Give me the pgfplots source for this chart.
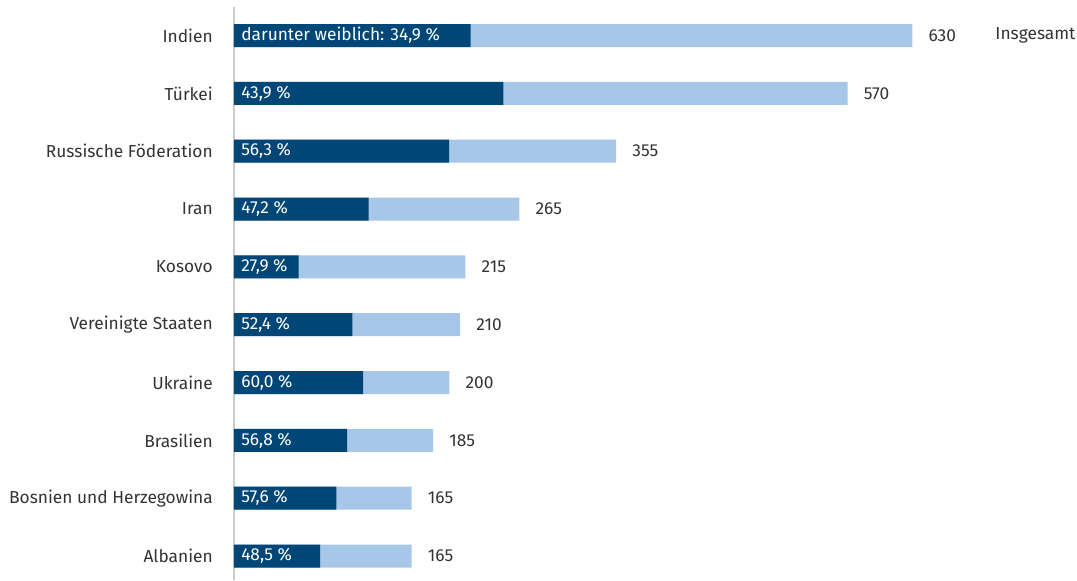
\documentclass[border=0pt]{standalone}
\usepackage{pgfplots}
\usepackage{pgfplotstable}
\pgfplotsset{compat=1.18}
\usepackage{fontspec}
\setmainfont{Fira Sans}

\definecolor{dunkel}{HTML}{004677}
\definecolor{hell}{HTML}{A6C7E8}
\definecolor{schrift}{HTML}{333333}
\definecolor{achse}{HTML}{CCCCCC}

% total, female share (absolute = total * share)
\pgfplotstableread[col sep=semicolon]{
idx;land;gesamt;weiblich;lab
0;Indien;630;219.87;darunter weiblich: 34,9 \%
1;Türkei;570;250.23;43,9 \%
2;Russische Föderation;355;199.87;56,3 \%
3;Iran;265;125.08;47,2 \%
4;Kosovo;215;59.99;27,9 \%
5;Vereinigte Staaten;210;110.04;52,4 \%
6;Ukraine;200;120.00;60,0 \%
7;Brasilien;185;105.08;56,8 \%
8;Bosnien und Herzegowina;165;95.04;57,6 \%
9;Albanien;165;80.03;48,5 \%
}\daten

\begin{document}
\fontsize{13}{15}\selectfont
\begin{tikzpicture}
\begin{axis}[
    name=ax,
    scale only axis,
    width=632.25pt, height=429.75pt,
    xmin=0, xmax=783,
    ymin=-0.493, ymax=9.415,
    y dir=reverse,
    axis x line=none,
    axis y line*=left,
    y axis line style={achse, -, line width=1.1pt},
    ytick={0,...,9},
    yticklabels from table={\daten}{land},
    major tick length=0pt,
    yticklabel style={anchor=east, inner sep=0pt, xshift=-15.75pt, text=schrift},
    clip=false,
]
\addplot[xbar, bar width=17.25pt, bar shift=0pt, fill=hell, draw=none,
    point meta=explicit symbolic, nodes near coords,
    nodes near coords style={anchor=west, inner sep=0pt, xshift=12pt, text=schrift}]
    table[x=gesamt, y=idx, meta=gesamt] {\daten};
\addplot[xbar, bar width=17.25pt, bar shift=0pt, fill=dunkel, draw=none]
    table[x=weiblich, y=idx] {\daten};
\addplot[only marks, mark=none,
    point meta=explicit symbolic, nodes near coords,
    nodes near coords style={anchor=west, inner sep=0pt, xshift=5.25pt, text=white}]
    table[x expr=0, y=idx, meta=lab] {\daten};
\node[anchor=west, inner sep=0pt, text=schrift] at (axis cs:707,0) {Insgesamt};
\end{axis}
\pgfresetboundingbox
\useasboundingbox ([xshift=-175.5pt]ax.south west) rectangle ([xshift=632.25pt,yshift=5.25pt]ax.north west);
\end{tikzpicture}
\end{document}
